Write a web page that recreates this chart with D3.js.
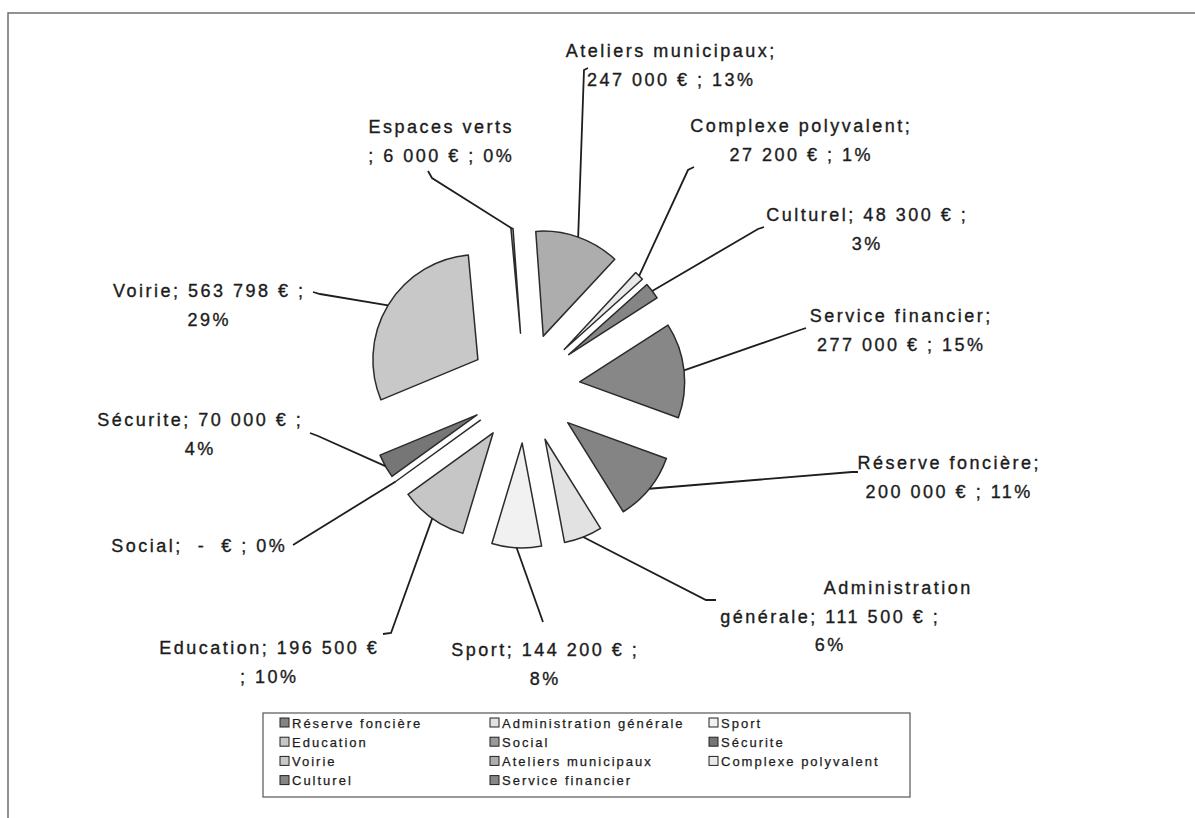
<!DOCTYPE html>
<html>
<head>
<meta charset="utf-8">
<script src="https://cdn.jsdelivr.net/npm/d3@7"></script>
<style>
  body { margin: 0; background: #fff; }
  svg text { font-family: "Liberation Sans", Arial, sans-serif; fill: #1c1c1c; white-space: pre; }
</style>
</head>
<body>
<div id="chart"></div>
<script>
// budget per poste, in pie order (clockwise)
const categories = ['Réserve foncière', 'Administration générale', 'Sport', 'Education', 'Social',
  'Sécurite', 'Voirie', 'Espaces verts', 'Ateliers municipaux', 'Complexe polyvalent',
  'Culturel', 'Service financier'];
const amounts = [200000, 111500, 144200, 196500, 0, 70000, 563798, 6000, 247000, 27200, 48300, 277000];

// data labels as printed on the chart
const labelLines = [
  ['Réserve foncière;', '200 000 € ; 11%'],
  ['Administration', 'générale; 111 500 € ;', '6%'],
  ['Sport; 144 200 € ;', '8%'],
  ['Education; 196 500 €', '; 10%'],
  ['Social;  -  € ; 0%'],
  ['Sécurite; 70 000 € ;', '4%'],
  ['Voirie; 563 798 € ;', '29%'],
  ['Espaces verts', '; 6 000 € ; 0%'],
  ['Ateliers municipaux;', '247 000 € ; 13%'],
  ['Complexe polyvalent;', '27 200 € ; 1%'],
  ['Culturel; 48 300 € ;', '3%'],
  ['Service financier;', '277 000 € ; 15%']
];

const legendItems = ['Réserve foncière', 'Administration générale', 'Sport', 'Education', 'Social',
  'Sécurite', 'Voirie', 'Ateliers municipaux', 'Complexe polyvalent', 'Culturel', 'Service financier'];

// greys of the scanned print
const fills = ['#848484', '#e2e2e2', '#f1f1f1', '#c6c6c6', '#9a9a9a', '#767676', '#c8c8c8',
  '#bdbdbd', '#adadad', '#e9e9e9', '#858585', '#878787'];

// hand-placed label boxes: centre x, first baseline, leader anchor + hook
const labelLayout = [
  { x: 948, y: 469, anchor: [858, 472], hook: [852, 472] },
  { x: 829, y: 594, anchor: [716, 600], hook: [706, 600], dx: [68, 0, 0] },
  { x: 544, y: 656, anchor: [543, 622], hook: [543, 622] },
  { x: 268, y: 654, anchor: [383, 634], hook: [391, 633] },
  { x: 198, y: 552, anchor: [293, 545], hook: [293, 545] },
  { x: 199, y: 426, anchor: [310, 433], hook: [318, 436] },
  { x: 208, y: 297, anchor: [313, 292], hook: [320, 294] },
  { x: 440, y: 133, anchor: [428, 171], hook: [432, 178] },
  { x: 670, y: 57, anchor: [588, 68], hook: [584, 70] },
  { x: 800, y: 132, anchor: [694, 167], hook: [688, 170] },
  { x: 866, y: 221, anchor: [764, 227], hook: [758, 229] },
  { x: 900, y: 322, anchor: [806, 328], hook: [800, 330] }
];

const W = 1195, H = 818;
const cx = 525, cy = 388, R = 105, explode = 55;
const lineH = 28.5;

const svg = d3.select('#chart').append('svg')
  .attr('width', W).attr('height', H);

// frame of the chart area (scan shows top and left borders)
svg.append('path')
  .attr('d', `M8,${H} L8,13 L${W},13`)
  .attr('fill', 'none').attr('stroke', '#6e6e6e').attr('stroke-width', 1.5);

const pie = d3.pie().sort(null).value(d => d)
  .startAngle(110 * Math.PI / 180)
  .endAngle(470 * Math.PI / 180);
const arcs = pie(amounts);
const arc = d3.arc().innerRadius(0).outerRadius(R);

const g = svg.append('g').attr('transform', `translate(${cx},${cy})`);

arcs.forEach((a, i) => {
  const mid = (a.startAngle + a.endAngle) / 2;
  const ox = Math.sin(mid) * explode, oy = -Math.cos(mid) * explode;
  g.append('path')
    .attr('d', arc(a))
    .attr('transform', `translate(${ox},${oy})`)
    .attr('fill', fills[i])
    .attr('stroke', '#2b2b2b').attr('stroke-width', 1.5)
    .attr('stroke-linejoin', 'round');

  // leader line from label to the outer edge of the slice
  const lay = labelLayout[i];
  const ex = cx + ox + Math.sin(mid) * R, ey = cy + oy - Math.cos(mid) * R;
  svg.append('polyline')
    .attr('points', [lay.anchor, lay.hook, [ex, ey]].map(p => p.join(',')).join(' '))
    .attr('fill', 'none').attr('stroke', '#1e1e1e').attr('stroke-width', 1.8);

  const t = svg.append('text')
    .attr('text-anchor', 'middle')
    .attr('font-size', '18px')
    .attr('letter-spacing', '2.5px')
    .attr('stroke', '#1c1c1c').attr('stroke-width', 0.35);
  labelLines[i].forEach((s, k) => {
    const dx = lay.dx ? lay.dx[k] : 0;
    t.append('tspan').attr('x', lay.x + 1.2 + dx).attr('y', lay.y + k * lineH).text(s);
  });
});

// legend
const lg = svg.append('g');
lg.append('rect')
  .attr('x', 263).attr('y', 713).attr('width', 647).attr('height', 84)
  .attr('fill', '#fff').attr('stroke', '#555').attr('stroke-width', 1.2);

const colX = [280, 490, 709];
legendItems.forEach((name, i) => {
  const col = i % 3, row = Math.floor(i / 3);
  const x = colX[col], y = 723 + row * 19.2;
  const fi = categories.indexOf(name);
  lg.append('rect')
    .attr('x', x).attr('y', y - 5).attr('width', 9).attr('height', 9)
    .attr('fill', fills[fi]).attr('stroke', '#222').attr('stroke-width', 1);
  lg.append('text')
    .attr('x', x + 12).attr('y', y + 4.5)
    .attr('font-size', '13px').attr('letter-spacing', '2px')
    .attr('stroke', '#1c1c1c').attr('stroke-width', 0.25)
    .text(name);
});
</script>
</body>
</html>
